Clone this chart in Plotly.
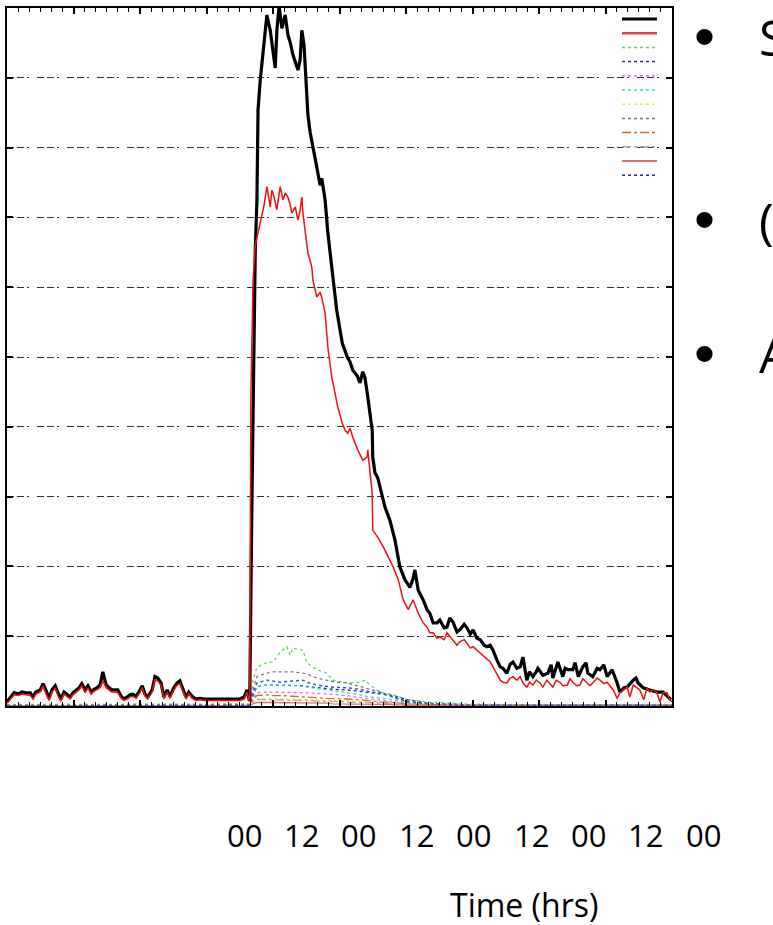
import plotly.graph_objects as go

# ---------------- data (time in hours, value in % of scale) ----------------
base_t = [0.0, 0.5, 1.3, 2.0, 2.7, 3.4, 4.2, 4.7, 5.2, 6.0, 6.5, 7.0, 7.6, 8.1, 8.7, 9.2, 9.7, 10.3, 10.8, 11.4,
          11.9, 12.5, 13.0, 13.5, 14.1, 14.6, 15.2, 15.7, 16.2, 16.8, 17.3, 17.9, 18.4, 18.9, 19.5, 20.0, 20.6, 21.1,
          21.7, 22.2, 22.7, 23.3, 23.8, 24.4, 24.9, 25.4, 26.2, 26.7, 27.2, 27.8, 28.3, 28.9, 29.4, 30.1, 30.7, 31.2,
          31.8, 32.3, 32.8, 33.4, 34.1, 34.8, 35.7, 36.6, 37.5, 38.4, 39.3, 40.2, 41.1, 42.0, 42.8, 43.3, 43.7]

black_base = [0.6, 1.1, 1.9, 1.7, 2.0, 1.9, 1.9, 1.3, 2.0, 2.3, 3.2, 2.3, 1.1, 2.3, 2.9, 1.9, 1.0, 2.0, 1.7, 1.3,
              1.9, 2.3, 2.6, 3.2, 2.3, 2.9, 2.0, 2.4, 2.6, 3.0, 4.9, 3.0, 2.6, 2.3, 2.3, 2.3, 1.4, 1.0, 1.3, 1.6,
              1.7, 1.4, 2.0, 2.9, 1.7, 1.3, 2.3, 4.2, 4.0, 3.3, 1.3, 2.3, 1.4, 2.6, 3.3, 3.6, 2.3, 1.3, 2.0, 1.4,
              1.0, 1.1, 1.0, 1.0, 1.0, 0.9, 0.9, 0.9, 0.9, 1.0, 1.3, 2.3, 0.9]

red_base = [0.4, 0.9, 1.6, 1.5, 1.7, 1.6, 1.5, 1.0, 1.7, 2.0, 2.9, 1.8, 0.8, 2.0, 2.6, 1.5, 0.7, 1.7, 1.4, 1.0,
            1.6, 2.0, 2.3, 2.9, 1.9, 2.6, 1.7, 2.1, 2.3, 2.6, 3.6, 2.6, 2.3, 2.0, 2.0, 1.9, 1.1, 0.8, 1.0, 1.3,
            1.4, 1.1, 1.7, 2.6, 1.4, 1.0, 2.0, 3.8, 3.6, 3.0, 1.0, 2.0, 1.1, 2.3, 3.0, 3.2, 2.0, 1.0, 1.7, 1.1,
            0.8, 0.9, 0.8, 0.8, 0.8, 0.7, 0.7, 0.7, 0.7, 0.8, 1.0, 2.0, 0.7]

black_event_t = [43.8, 44.2, 44.6, 44.8, 45.1, 45.3, 45.7, 46.2, 46.6, 46.9, 47.5, 47.8, 48.4, 48.7, 49.1, 49.6,
                 50.2, 50.7, 51.1, 51.6, 52.0, 52.5, 52.9, 53.2, 53.6, 54.0, 54.3, 54.7, 55.2, 55.9, 56.5, 56.8,
                 57.4, 57.9, 58.6, 59.2, 59.5, 60.5, 61.4, 61.9, 62.4, 63.2, 63.7, 64.2, 64.6, 65.1, 65.5, 65.9,
                 66.0, 66.4, 66.9, 67.3, 68.2, 69.1, 70.0, 70.9, 71.8, 72.7, 73.3, 73.6, 74.2, 75.1, 75.8, 76.3,
                 76.9, 77.6, 78.1, 78.9, 79.4, 79.9, 80.5, 81.2, 81.7, 82.5, 83.0, 83.6, 84.1, 84.8, 85.4, 86.1,
                 86.6, 87.2, 87.7, 88.4, 89.0, 89.5, 90.2, 90.8, 91.3, 92.0, 92.6, 93.1, 93.8, 94.3, 94.9, 95.5,
                 95.8, 96.7, 97.6, 98.2, 98.5, 99.4, 100.3, 100.7, 101.2, 102.1, 102.5, 103.1, 103.9, 104.5,
                 104.8, 105.7, 106.5, 107.0, 107.7, 108.3, 109.2, 110.1, 110.6, 111.3, 111.9, 113.0, 113.5,
                 113.9, 114.8, 116.0, 117.3, 118.4, 119.3, 119.8]
black_event = [0.9, 29.5, 55.3, 65.3, 72.5, 85.4, 89.7, 94.0, 96.8, 99.0, 96.8, 95.0, 91.4, 96.8, 100.3, 97.1,
               99.0, 96.1, 95.1, 93.3, 92.3, 91.1, 92.6, 96.8, 94.7, 88.3, 84.7, 82.2, 79.9, 77.2, 74.6, 75.6,
               72.5, 67.8, 62.9, 58.2, 56.7, 52.0, 50.0, 49.3, 48.1, 47.3, 46.3, 47.9, 47.0, 44.3, 42.0, 39.5,
               35.7, 33.4, 32.7, 31.4, 28.5, 26.6, 23.8, 19.9, 18.1, 17.0, 18.3, 19.5, 16.6, 15.2, 13.8, 13.3,
               11.9, 11.9, 12.3, 11.2, 11.3, 12.6, 12.0, 10.6, 10.9, 11.7, 11.2, 10.3, 10.9, 9.7, 9.5, 8.7,
               8.5, 8.7, 8.0, 6.6, 5.6, 5.4, 4.7, 6.0, 6.3, 5.4, 5.6, 7.0, 3.7, 4.9, 4.2, 4.9,
               5.4, 4.4, 4.7, 5.9, 4.0, 6.3, 4.2, 5.4, 5.2, 5.2, 6.2, 4.2, 5.6, 6.2,
               4.7, 4.2, 5.4, 5.2, 5.9, 4.2, 5.2, 3.3, 2.0, 2.6, 2.7, 3.7, 4.0,
               3.3, 2.6, 2.3, 2.0, 2.0, 1.3, 0.9]

red_event_t = [43.8, 44.0, 44.4, 44.8, 45.3, 45.7, 46.0, 46.4, 46.9, 47.3, 47.5, 47.8, 48.0, 48.4, 48.7, 49.3,
               49.8, 50.2, 50.7, 51.1, 51.4, 52.0, 52.5, 52.9, 53.2, 53.4, 53.8, 54.3, 55.0, 55.2, 55.9, 56.5,
               56.8, 57.4, 57.9, 58.6, 59.2, 59.7, 60.5, 61.0, 61.5, 61.9, 62.4, 63.3, 64.2, 65.0, 65.1, 65.5,
               65.9, 66.0, 66.9, 67.9, 68.8, 69.7, 70.6, 71.5, 72.4, 73.3, 74.2, 75.1, 75.8, 76.3, 76.9, 77.6,
               78.1, 78.9, 79.4, 79.9, 80.5, 81.2, 81.7, 82.5, 83.0, 83.6, 84.1, 84.8, 85.4, 86.1, 86.6, 87.2,
               87.7, 88.4, 89.0, 89.5, 90.2, 90.8, 91.3, 92.0, 92.6, 93.1, 93.8, 94.3, 94.9, 95.5, 96.2, 96.7,
               97.4, 98.0, 98.5, 99.1, 99.8, 100.3, 101.1, 101.6, 102.1, 102.8, 103.4, 103.9, 104.7, 105.2,
               105.7, 106.5, 107.0, 107.7, 108.3, 108.8, 109.4, 110.1, 110.6, 111.3, 111.9, 112.4, 113.0,
               113.7, 114.2, 114.9, 115.5, 116.0, 116.6, 117.3, 117.8, 118.4, 119.1, 119.6, 120.0]
red_event = [0.9, 43.8, 61.0, 66.0, 67.8, 69.3, 70.1, 71.8, 74.4, 72.5, 71.5, 73.9, 73.5, 72.2, 71.1, 74.4,
             72.5, 73.5, 72.9, 71.8, 70.6, 71.5, 69.6, 71.1, 72.9, 70.6, 67.8, 64.9, 62.9, 61.0, 58.6, 59.3,
             58.5, 56.3, 51.4, 47.1, 44.8, 42.8, 40.5, 39.5, 39.1, 39.8, 38.5, 36.7, 35.2, 35.7, 36.7, 33.4,
             30.5, 25.2, 24.2, 22.8, 21.3, 19.9, 18.1, 15.2, 13.8, 15.2, 13.3, 11.9, 11.3, 10.5, 10.5, 9.7,
             9.9, 9.5, 10.5, 10.0, 9.5, 8.7, 9.2, 9.5, 9.0, 8.3, 8.5, 8.0, 7.6, 7.0, 6.6, 6.3,
             5.6, 4.6, 3.7, 3.4, 3.3, 4.0, 4.2, 3.7, 4.2, 3.3, 2.7, 3.4, 3.0, 3.7, 3.3, 2.7,
             3.7, 3.2, 2.7, 3.7, 3.4, 2.9, 3.0, 3.9, 3.4, 2.9, 3.0, 3.9, 3.3, 2.9,
             3.3, 4.0, 3.7, 3.2, 3.4, 2.9, 2.3, 1.1, 1.9, 2.3, 2.7, 1.3, 3.0,
             2.6, 2.3, 0.9, 2.6, 2.0, 2.3, 1.9, 0.6, 1.9, 1.9, 0.9, 0.6]

small_t = [0, 43.5, 43.8, 44.4, 45.1, 46.9, 48.0, 49.3, 50.5, 51.1, 51.6, 53.4, 54.1, 55.9, 57.7, 58.8,
           61.4, 63.7, 64.6, 65.5, 67.3, 69.7, 72.2, 75.8, 81.7, 90, 120]
green = [0.2, 0.2, 0.3, 3.7, 5.6, 6.2, 6.3, 7.7, 8.5, 7.3, 8.3, 8.0, 6.2, 5.2, 4.7, 3.7, 3.3, 3.4, 3.7, 3.0,
         2.0, 1.6, 0.9, 0.6, 0.3, 0.2, 0.2]
navy = [0, 0, 0.1, 1.5, 2.8, 3.0, 3.0, 3.0, 3.0, 3.0, 3.0, 2.9, 2.8, 2.6, 2.5, 2.4, 2.3, 2.1, 2.0, 1.9,
        1.7, 1.5, 0.9, 0.4, 0.2, 0.1, 0.1]
magenta = [0, 0, 0.1, 1.2, 1.9, 2.0, 2.0, 2.0, 2.0, 2.0, 2.0, 1.9, 1.9, 1.8, 1.7, 1.6, 1.5, 1.2, 1.1, 1.0,
           0.9, 0.6, 0.4, 0.2, 0.1, 0.1, 0.1]
cyan = [0, 0, 0.1, 1.8, 2.8, 3.0, 3.0, 3.0, 3.0, 3.0, 3.0, 2.8, 2.7, 2.5, 2.3, 2.2, 1.9, 1.6, 1.4, 1.3,
        1.1, 0.9, 0.5, 0.2, 0.1, 0.1, 0.1]
yellow = [0, 0, 0.1, 0.7, 1.1, 1.1, 1.1, 1.1, 1.0, 1.0, 1.0, 1.0, 0.9, 0.9, 0.9, 0.8, 0.8, 0.7, 0.7, 0.6,
          0.5, 0.4, 0.3, 0.2, 0.1, 0.1, 0.1]
gray = [0.1, 0.1, 0.2, 2.5, 4.2, 4.7, 4.9, 4.9, 4.9, 4.9, 4.9, 4.7, 4.6, 4.0, 3.7, 3.5, 3.3, 2.8, 2.6, 2.4,
        2.0, 1.3, 0.7, 0.4, 0.2, 0.1, 0.1]
orange = [0, 0, 0.1, 1.0, 1.5, 1.6, 1.5, 1.5, 1.4, 1.4, 1.4, 1.3, 1.3, 1.2, 1.1, 1.1, 1.0, 0.9, 0.8, 0.8,
          0.6, 0.5, 0.3, 0.2, 0.1, 0.1, 0.1]
lightgray = [0, 0, 0.1, 0.5, 0.9, 0.9, 0.9, 0.9, 0.9, 0.8, 0.8, 0.8, 0.8, 0.7, 0.7, 0.6, 0.6, 0.5, 0.5, 0.4,
             0.4, 0.3, 0.2, 0.1, 0.1, 0.1, 0.1]
pink = [0, 0, 0.1, 0.3, 0.5, 0.5, 0.5, 0.5, 0.5, 0.5, 0.5, 0.5, 0.4, 0.4, 0.4, 0.3, 0.3, 0.3, 0.3, 0.2,
        0.2, 0.2, 0.1, 0.1, 0.1, 0.1, 0.1]
blue = [0, 0, 0.1, 2.0, 3.3, 3.7, 3.6, 3.4, 3.5, 3.6, 3.6, 3.7, 3.4, 3.0, 2.8, 2.7, 2.6, 2.4, 2.2, 2.0,
        1.9, 1.3, 0.6, 0.3, 0.1, 0.1, 0.1]

tick_labels = ["00", "12", "00", "12", "00", "12", "00", "12", "00"]
axis_title = "Time (hrs)"
bullet_letters = ["S", "(", "A"]

# ---------------- styling ----------------
W, H = 773, 925
PL, PR, PT, PB = 7, 672, 8, 706

def px(x):
    return x / W

def py(y):
    return 1 - y / H

# (name, values, color, dash, width)
small_series = [
    ("green", green, "#55dd55", "dot", 1.3),
    ("navy", navy, "#2a2a90", "dot", 1.3),
    ("magenta", magenta, "#ee66ee", "dot", 1.3),
    ("cyan", cyan, "#33d6d6", "dot", 1.3),
    ("yellow", yellow, "#eeee44", "dot", 1.3),
    ("gray", gray, "#777777", "dot", 1.3),
    ("orange", orange, "#d2691e", "dashdot", 1.3),
    ("lightgray", lightgray, "#aaaaaa", "dashdot", 1.3),
    ("pink", pink, "#e07070", "solid", 1.3),
    ("blue", blue, "#3355dd", "dot", 1.5),
]

fig = go.Figure()
for name, vals, col, dash, wd in small_series:
    fig.add_trace(go.Scatter(x=small_t, y=vals, mode="lines", name=name,
                             line=dict(color=col, dash=dash, width=wd)))

fig.add_trace(go.Scatter(x=base_t + black_event_t, y=black_base + black_event, mode="lines",
                         name="black", line=dict(color="#000000", width=3.2)))
fig.add_trace(go.Scatter(x=base_t + red_event_t, y=red_base + red_event, mode="lines",
                         name="red", line=dict(color="#ee1111", width=1.5)))

shapes = []
# legend box hiding gridlines
shapes.append(dict(type="rect", xref="paper", yref="paper", x0=px(578), x1=px(671),
                   y0=py(190), y1=py(9), fillcolor="white", line=dict(width=0), layer="between"))
legend_styles = [
    ("#000000", "solid", 3), ("#d04545", "solid", 2.5), ("#55dd55", "dot", 1.5), ("#2a2a90", "dot", 1.5),
    ("#ee66ee", "dot", 1.5), ("#33d6d6", "dot", 1.5), ("#eeee44", "dot", 1.5), ("#777777", "dot", 1.5),
    ("#d2691e", "dashdot", 1.5), ("#aaaaaa", "dashdot", 1.5), ("#e07070", "solid", 2), ("#2a2a90", "dot", 1.5),
]
for i, (col, dash, wd) in enumerate(legend_styles):
    yy = 19 + i * 14.2
    shapes.append(dict(type="line", xref="paper", yref="paper", x0=px(622), x1=px(657),
                       y0=py(yy), y1=py(yy), line=dict(color=col, dash=dash, width=wd)))

annotations = []
for i, lab in enumerate(tick_labels):
    annotations.append(dict(text=lab, xref="paper", yref="paper", x=px(244 + i * 57.4), y=py(835),
                            xanchor="center", yanchor="middle", showarrow=False,
                            font=dict(family="Open Sans", size=31, color="black")))
annotations.append(dict(text=axis_title, xref="paper", yref="paper", x=px(524), y=py(904),
                        xanchor="center", yanchor="middle", showarrow=False,
                        font=dict(family="Open Sans", size=32, color="black")))
bullet_y = [36, 219, 353]
for i, letter in enumerate(bullet_letters):
    annotations.append(dict(text="\u2022", xref="paper", yref="paper", x=px(704), y=py(bullet_y[i]),
                            xanchor="center", yanchor="middle", showarrow=False,
                            font=dict(family="Liberation Sans", size=60, color="black")))
    annotations.append(dict(text=letter, xref="paper", yref="paper", x=px(757), y=py(bullet_y[i] + 1),
                            xanchor="left", yanchor="middle", showarrow=False,
                            font=dict(family="Open Sans", size=50, color="black")))

fig.update_layout(
    width=W, height=H, margin=dict(l=0, r=0, t=0, b=0),
    paper_bgcolor="white", plot_bgcolor="white", showlegend=False,
    shapes=shapes, annotations=annotations,
    xaxis=dict(domain=[px(PL), px(PR)], range=[0, 120], showticklabels=False, showgrid=False,
               zeroline=False, showline=True, linecolor="black", linewidth=2, mirror="ticks",
               ticks="inside", ticklen=6, tickwidth=1.5, tickcolor="black", tick0=0, dtick=12,
               minor=dict(dtick=2, ticks="inside", ticklen=4, tickwidth=1, tickcolor="black")),
    yaxis=dict(domain=[py(PB), py(PT)], range=[0, 100], showticklabels=False, showgrid=True,
               gridcolor="#333333", gridwidth=1, griddash="7px,3px,7px,3px,2px,8px",
               zeroline=False, showline=True, linecolor="black", linewidth=2, mirror="ticks",
               ticks="inside", ticklen=6, tickwidth=1.5, tickcolor="black", dtick=10),
)

fig.write_html("out.html")
